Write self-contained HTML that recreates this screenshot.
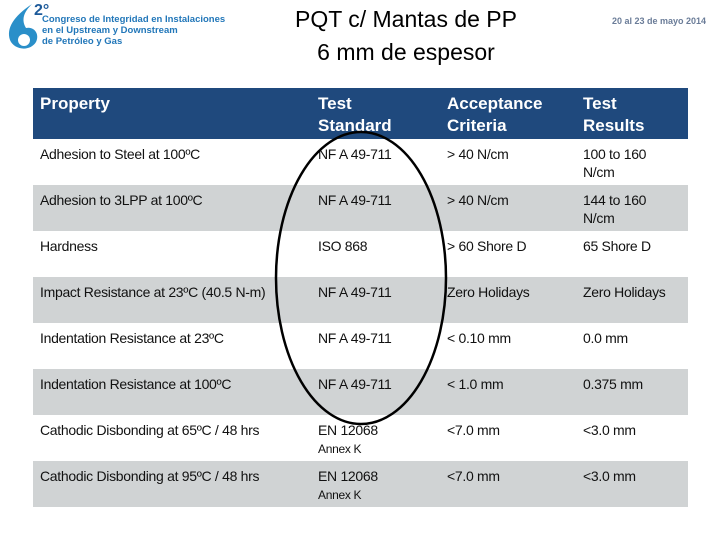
<!DOCTYPE html>
<html><head><meta charset="utf-8"><style>
body{margin:0;width:720px;height:540px;background:#fff;position:relative;overflow:hidden;font-family:"Liberation Sans",sans-serif}
.abs{position:absolute}
table{position:absolute;left:33px;top:88px;width:655px;border-collapse:collapse;table-layout:fixed}
td{vertical-align:top;padding:6px 0 0 7px;font-size:14px;color:#111;line-height:18px;letter-spacing:-0.3px}
tr.h td{background:#1f497d;color:#fff;font-weight:bold;font-size:17px;line-height:22px;height:46px;padding-top:5px;letter-spacing:0}
tr.g td{background:#d0d3d4}
tr.r td{height:40px}
.sm{font-size:12px}
</style></head><body>
<div class="abs" style="left:4px;top:2px;width:250px;height:50px">
<svg width="40" height="50" class="abs" style="left:0;top:0"><path d="M28 2 C10 14 2 26 6 38 C10 48 26 50 32 40 C36 32 30 24 22 26 C16 16 22 8 28 2Z" fill="#2a8fc9"/><circle cx="20" cy="38" r="6" fill="#fff"/></svg>
<div class="abs" style="left:30px;top:0;font-size:16px;font-weight:bold;color:#1d5a9a">2°</div>
<div class="abs" style="left:38px;top:12px;font-size:9.5px;font-weight:bold;color:#2277b9;line-height:11px">Congreso de Integridad en Instalaciones<br>en el Upstream y Downstream<br>de Petróleo y Gas</div>
</div>
<div class="abs" style="left:250px;top:3px;width:312px;text-align:center;font-size:23px;line-height:33px;color:#000">PQT c/ Mantas de PP<br>6 mm de espesor</div>
<div class="abs" style="left:612px;top:16px;font-size:9px;font-weight:bold;color:#6a7c98">20 al 23 de mayo 2014</div>
<table>
<colgroup><col style="width:278px"><col style="width:129px"><col style="width:136px"><col></colgroup>
<tr class="h"><td>Property</td><td>Test<br>Standard</td><td>Acceptance<br>Criteria</td><td>Test<br>Results</td></tr>
<tr class="r"><td>Adhesion to Steel at 100ºC</td><td>NF A 49-711</td><td>&gt; 40 N/cm</td><td>100 to 160<br>N/cm</td></tr>
<tr class="r g"><td>Adhesion to 3LPP at 100ºC</td><td>NF A 49-711</td><td>&gt; 40 N/cm</td><td>144 to 160<br>N/cm</td></tr>
<tr class="r"><td>Hardness</td><td>ISO 868</td><td>&gt; 60 Shore D</td><td>65 Shore D</td></tr>
<tr class="r g"><td>Impact Resistance at 23ºC (40.5 N-m)</td><td>NF A 49-711</td><td>Zero Holidays</td><td>Zero Holidays</td></tr>
<tr class="r"><td>Indentation Resistance at 23ºC</td><td>NF A 49-711</td><td>&lt; 0.10 mm</td><td>0.0 mm</td></tr>
<tr class="r g"><td>Indentation Resistance at 100ºC</td><td>NF A 49-711</td><td>&lt; 1.0 mm</td><td>0.375 mm</td></tr>
<tr class="r"><td>Cathodic Disbonding at 65ºC / 48 hrs</td><td>EN 12068<br><span class="sm">Annex K</span></td><td>&lt;7.0 mm</td><td>&lt;3.0 mm</td></tr>
<tr class="r g"><td>Cathodic Disbonding at 95ºC / 48 hrs</td><td>EN 12068<br><span class="sm">Annex K</span></td><td>&lt;7.0 mm</td><td>&lt;3.0 mm</td></tr>
</table>
<svg class="abs" style="left:0;top:0" width="720" height="540"><ellipse cx="361" cy="278" rx="85" ry="146" fill="none" stroke="#000" stroke-width="2.5"/></svg>
</body></html>
